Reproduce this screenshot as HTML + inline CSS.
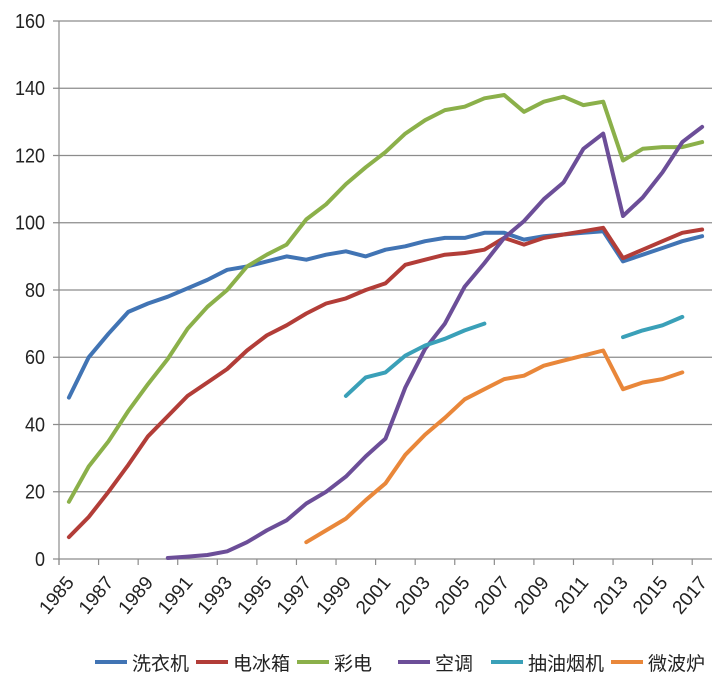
<!DOCTYPE html>
<html><head><meta charset="utf-8"><style>
body{margin:0;background:#fff;width:720px;height:684px;overflow:hidden}
text{font-family:"Liberation Sans","Noto Sans CJK SC",sans-serif;fill:#222}
</style></head><body>
<svg id="chart" width="720" height="684" xmlns="http://www.w3.org/2000/svg"></svg>
<script>
const years=[];for(let y=1985;y<=2017;y++)years.push(y);
const yTicks=[0,20,40,60,80,100,120,140,160];
const seriesNames=["洗衣机","电冰箱","彩电","空调","抽油烟机","微波炉"];
const seriesColors=["#4174b4","#b23d38","#8bb04a","#6c4e98","#3aa0b8","#e9873a"];
const washer=[48,60,67,73.5,76,78,80.5,83,86,87,88.5,90,89,90.5,91.5,90,92,93,94.5,95.5,95.5,97,97,95,96,96.5,97,97.5,88.5,90.5,92.5,94.5,96];
const fridge=[6.5,12.5,20,28,36.5,42.5,48.5,52.5,56.5,62,66.5,69.5,73,76,77.5,80,82,87.5,89,90.5,91,92,95.5,93.5,95.5,96.5,97.5,98.5,89.5,92,94.5,97,98];
const tv=[17,27.5,35,44,52,59.5,68.5,75,80,87,90.5,93.5,101,105.5,111.5,116.5,121,126.5,130.5,133.5,134.5,137,138,133,136,137.5,135,136,118.5,122,122.5,122.5,124];
const ac=[null,null,null,null,null,0.3,0.7,1.2,2.3,5,8.5,11.5,16.5,20,24.5,30.5,35.8,51,62.5,70,81,88,95.5,100.5,107,112,122,126.5,102,107.5,115,124,128.5];
const hood=[null,null,null,null,null,null,null,null,null,null,null,null,null,null,48.5,54,55.5,60.5,63.5,65.5,68,70,null,null,null,null,null,null,66,68,69.5,72,null];
const microwave=[null,null,null,null,null,null,null,null,null,null,null,null,5,8.5,12,17.5,22.5,31,37,42,47.5,50.5,53.5,54.5,57.5,59,60.5,62,50.5,52.5,53.5,55.5,null];
const allSeries=[washer,fridge,tv,ac,hood,microwave];
const NS="http://www.w3.org/2000/svg",svg=document.getElementById('chart');
const L=59,R=712,T=21,B=559,band=(R-L)/years.length;
const xS=i=>L+band*(i+0.5),yS=v=>B-(v/160)*(B-T);
function mk(t,a){const e=document.createElementNS(NS,t);for(const k in a)e.setAttribute(k,a[k]);svg.appendChild(e);return e;}
yTicks.forEach(v=>{
 const g=mk('line',{x1:L-6,x2:R,y1:yS(v),y2:yS(v),stroke:'#8c8c8c','stroke-width':1.2});
 
 
 const t=mk('text',{x:L-14,y:yS(v)+7,'text-anchor':'end','font-size':20,transform:`translate(${L-14} 0) scale(0.9 1) translate(${-(L-14)} 0)`});t.textContent=v;
 
 
});
const ax=mk('line',{x1:L,x2:L,y1:T,y2:B+6,stroke:'#8c8c8c','stroke-width':1.2});


for(let i=0;i<=years.length;i+=2){const x=L+band*i;const tk=mk('line',{x1:x,x2:x,y1:B,y2:B+6,stroke:'#8c8c8c','stroke-width':1.2});
 
 }
years.forEach((y,i)=>{if(i%2)return;const x=xS(i)+6,yy=B+24;
 const t=mk('text',{x:x,y:yy,'text-anchor':'end','font-size':19,transform:`rotate(-50 ${x} ${yy})`});t.textContent=y;
 
 });
allSeries.forEach((s,k)=>{let d='',pen=false;
 s.forEach((v,i)=>{if(v==null){pen=false;return;}d+=(pen?'L':'M')+xS(i).toFixed(1)+' '+yS(v).toFixed(1);pen=true;});
 const p=mk('path',{d:d,fill:'none',stroke:seriesColors[k],'stroke-width':4,'stroke-linejoin':'round','stroke-linecap':'round'});
 
 });
const lx=[95,196,297,398,491,611];
seriesNames.forEach((n,k)=>{
 const l=mk('line',{x1:lx[k],x2:lx[k]+32,y1:662,y2:662,stroke:seriesColors[k],'stroke-width':4});
 
 
 const t=mk('text',{x:lx[k]+37,y:670,'font-size':19});t.textContent=n;
 
 });
</script>
</body></html>
